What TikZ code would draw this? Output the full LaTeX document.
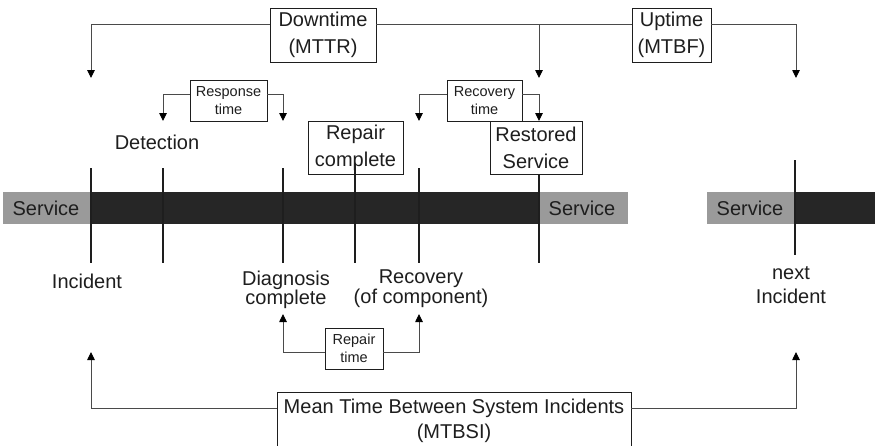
\documentclass[tikz,border=0pt]{standalone}
\usepackage{fontspec}
\setmainfont{Liberation Sans}
\usetikzlibrary{arrows.meta}
\definecolor{barGray}{HTML}{9A9A9A}
\definecolor{barDark}{HTML}{262626}
\definecolor{lineGray}{HTML}{4A4A4A}
\definecolor{inkDark}{HTML}{1E1E1E}
\tikzset{
  box/.style={draw=inkDark, line width=0.9pt, inner sep=0pt, align=center,
              text=inkDark, font=\fontsize{20}{27}\selectfont},
  smallbox/.style={box, font=\fontsize{14.5}{18}\selectfont},
  lbl/.style={inner sep=0pt, align=center, text=inkDark,
              font=\fontsize{20}{24}\selectfont},
  conn/.style={draw=lineGray, line width=0.9pt},
  arr/.style={conn, -{Triangle[width=7.5pt,length=8pt,color=black]}},
  tick/.style={draw=inkDark, line width=1.2pt},
}
\begin{document}
\begin{tikzpicture}[x=1pt,y=-1pt]
\clip (0,0) rectangle (875,445);
\fill[white] (0,0) rectangle (875,445);

% service bars
\fill[barGray] (3,192) rectangle (91,224);
\fill[barDark] (91,192) rectangle (539,224);
\fill[barGray] (539,192) rectangle (628,224);
\fill[barGray] (707,192) rectangle (795,224);
\fill[barDark] (795,192) rectangle (875,224);
\node[lbl] (sv1) at (46,208) {Service};
\node[lbl] (sv2) at (582,208) {Service};
\node[lbl] (sv3) at (750,208) {Service};

% boxes
\node[box, minimum width=106pt, minimum height=54pt] (dt) at (323,35) {Downtime\\(MTTR)};
\node[box, minimum width=79pt, minimum height=54pt] (ut) at (671.5,35) {Uptime\\(MTBF)};
\node[smallbox, minimum width=77pt, minimum height=41pt] (rt) at (228.5,100.5) {Response\\time};
\node[smallbox, minimum width=75pt, minimum height=41pt] (rct) at (484.5,100.5) {Recovery\\time};
\node[box, minimum width=95pt, minimum height=53pt] (rc) at (355.5,147.5) {Repair\\complete};
\node[box, minimum width=92pt, minimum height=53pt] (rs) at (536,147.5) {Restored\\Service};
\node[smallbox, minimum width=58pt, minimum height=41pt] (rpt) at (354,348.5) {Repair\\time};
\node[box, minimum width=354pt, minimum height=58pt, font=\fontsize{20}{25}\selectfont] (mt) at (454,421)
  {Mean Time Between System Incidents\\(MTBSI)};

% event labels
\node[lbl] (det) at (157,142) {Detection};
\node[lbl] (inc) at (87,281) {Incident};
\node[lbl, font=\fontsize{20}{18}\selectfont] (diag) at (286,290) {Diagnosis\\complete};
\node[lbl, font=\fontsize{20}{18}\selectfont] (rec) at (421,289) {Recovery\\(of component)};
\node[lbl] (nxt) at (791,285) {next\\Incident};

% time-line ticks
\draw[tick] (91,168) -- (91,263);
\draw[tick] (163,168) -- (163,263);
\draw[tick] (283,168) -- (283,263);
\draw[tick] (355,163) -- (355,263);
\draw[tick] (419,168) -- (419,263);
\draw[tick] (539,174) -- (539,263);
\draw[tick] (795,160) -- (795,255);

% arrow targets
\coordinate (aInc) at (91,78);
\coordinate (jRS) at (539,24);
\coordinate (aRS) at (539,78);
\coordinate (aNext) at (796,78);
\coordinate (aDet) at (163,121);
\coordinate (aDiag) at (283,121);
\coordinate (aRec) at (419,121);
\coordinate (aRS2) at (539,121);
\coordinate (aDiagUp) at (283,314);
\coordinate (aRecUp) at (419,314);
\coordinate (aIncUp) at (91,352);
\coordinate (aNextUp) at (796,352);

% downtime / uptime
\draw[arr] ([yshift=11pt]dt.west) -| (aInc);
\draw[conn] ([yshift=11pt]dt.east) -- ([yshift=11pt]ut.west);
\draw[arr] (jRS) -- (aRS);
\draw[arr] ([yshift=11pt]ut.east) -| (aNext);

% response / recovery time
\draw[arr] ([yshift=6.5pt]rt.west) -| (aDet);
\draw[arr] ([yshift=6.5pt]rt.east) -| (aDiag);
\draw[arr] ([yshift=6.5pt]rct.west) -| (aRec);
\draw[arr] ([yshift=6.5pt]rct.east) -| (aRS2);

% repair time
\draw[arr] ([yshift=-3.5pt]rpt.west) -| (aDiagUp);
\draw[arr] ([yshift=-3.5pt]rpt.east) -| (aRecUp);

% MTBSI
\draw[arr] ([yshift=13pt]mt.west) -| (aIncUp);
\draw[arr] ([yshift=13pt]mt.east) -| (aNextUp);
\end{tikzpicture}
\end{document}
